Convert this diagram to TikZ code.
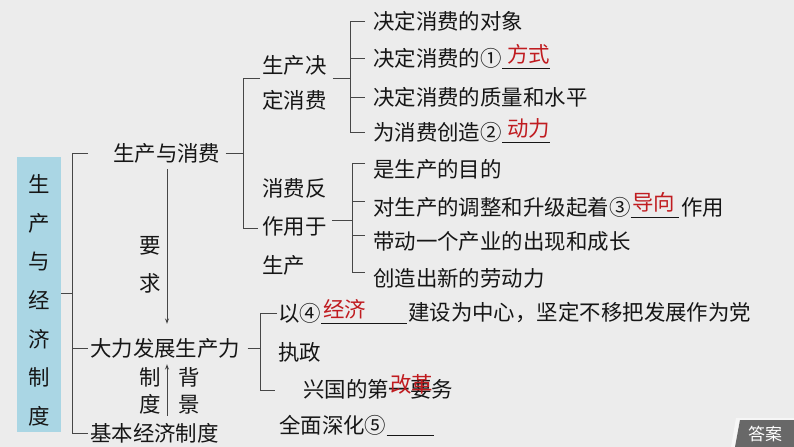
\documentclass[tikz,border=0pt]{standalone}
\usepackage{fontspec}
\setmainfont{Noto Sans CJK SC}
\usetikzlibrary{arrows.meta}
\definecolor{paper}{RGB}{236,236,236}
\definecolor{boxblue}{RGB}{170,214,228}
\definecolor{ink}{RGB}{22,22,22}
\definecolor{ansred}{RGB}{192,28,32}
\definecolor{linegray}{RGB}{70,70,70}
\definecolor{btngray}{RGB}{104,104,104}
\definecolor{btnshade}{RGB}{246,246,246}
\tikzset{
  txt/.style={anchor=west, inner sep=0pt, text=ink, font=\fontsize{18.3}{18.3}\selectfont},
  anstxt/.style={txt, text=ansred},
  brk/.style={draw=linegray, line width=0.8pt},
  uline/.style={draw=ink, line width=0.9pt},
  upar/.style={brk, -{Stealth[length=1.6mm, width=1.2mm]}},
}
\begin{document}
\begin{tikzpicture}[x=0.3mm, y=-0.3mm]
    \fill[paper] (0,0) rectangle (794,447);
    \useasboundingbox (0,0) rectangle (794,447);

    %title box
    \fill[boxblue] (17,157) rectangle (61,432);
    \node[txt, anchor=center, align=center, font=\fontsize{18.3}{33}\selectfont] (title) at (39,300.5) {生\\产\\与\\经\\济\\制\\度};
    \coordinate (titleR) at (61,293);

    %first level
    \node[txt] (pc) at (113,153) {生产与消费};
    \node[txt] (dl) at (90,348) {大力发展生产力};
    \node[txt] (jb) at (90,433) {基本经济制度};
    \coordinate (sp1top) at (72,153);
    \coordinate (sp1mid) at (72,293);
    \coordinate (sp1dl) at (72,348);
    \coordinate (sp1bot) at (72,433);
    \draw[brk] (titleR) -- (sp1mid);
    \draw[brk] ([xshift=-7.5mm]pc.west) -- (sp1top) -- (sp1bot) -- ([xshift=-0.6mm]jb.west);
    \draw[brk] (sp1dl) -- ([xshift=-0.6mm]dl.west);

    %yaoqiu / zhidu beijing
    \coordinate (arrx) at (167,0);
    \draw[upar, shorten <=1.8mm, shorten >=4.2mm] (pc.south -| arrx) -- (dl.north -| arrx);
    \draw[upar, shorten <=2.1mm, shorten >=1.8mm] (jb.north -| arrx) -- (dl.south -| arrx);
    \node[txt, anchor=center, align=center, font=\fontsize{18.3}{32.3}\selectfont] (yq) at (150,265) {要\\求};
    \node[txt, anchor=center, align=center, font=\fontsize{18.3}{23}\selectfont] (zd) at (150,390.5) {制\\度};
    \node[txt, anchor=center, align=center, font=\fontsize{18.3}{23}\selectfont] (bj) at (189,390.5) {背\\景};

    %shengchan yu xiaofei
    \coordinate (sp2top) at (243,78);
    \coordinate (sp2bot) at (243,228);
    \node[txt, align=left, font=\fontsize{18.3}{29.9}\selectfont] (jdxf) at (262,82.5) {生产决\\定消费};
    \node[txt, align=left, font=\fontsize{18.3}{32.8}\selectfont] (fzy) at (262,226.5) {消费反\\作用于\\生产};
    \draw[brk, shorten <=1.5mm] (pc.east) -- (pc.east -| sp2top);
    \draw[brk, shorten <=0.6mm, shorten >=1.2mm] (sp2top -| jdxf.west) -- (sp2top) -- (sp2bot) -- (sp2bot -| fzy.west);

    %shengchan jueding xiaofei (0-132)
    \node[txt] (a1) at (373,21) {决定消费的对象};
    \node[txt] (a2) at (373,58) {决定消费的①};
    \node[txt] (a3) at (373,97) {决定消费的质量和水平};
    \node[txt] (a4) at (373,132) {为消费创造②};
    \coordinate (sp3) at (350,0);
    \coordinate (sp3in) at (350,78);
    \draw[brk, shorten <=1.8mm] (jdxf.east |- sp3in) -- (sp3in);
    \draw[brk, shorten <=2.4mm, shorten >=2.4mm] (a1.west) -- (a1.west -| sp3) -- (a4.west -| sp3) -- (a4.west);
    \foreach \n in {a2,a3}
        \draw[brk, shorten >=2.4mm] (\n.west -| sp3) -- (\n.west);
    \draw[uline] (a2.south east) -- ++(48,0);
    \node[anstxt] (ans1) at (507,54) {方式};
    \draw[uline] (a4.south east) -- ++(48,0);
    \node[anstxt] (ans2) at (507,128) {动力};

    %xiaofei fanzuoyong yu shengchan (162-272)
    \node[txt] (b1) at (373,169) {是生产的目的};
    \node[txt] (b2) at (373,207) {对生产的调整和升级起着③};
    \node[txt] (b3) at (373,241) {带动一个产业的出现和成长};
    \node[txt] (b4) at (373,278) {创造出新的劳动力};
    \foreach \n in {b1,b2,b3,b4}
        \coordinate (\n-t) at ([yshift=1.8mm]\n.west);
    \coordinate (sp4) at (352,0);
    \coordinate (sp4in) at (352,220);
    \draw[brk, shorten <=1.5mm] (fzy.east |- sp4in) -- (sp4in);
    \draw[brk, shorten <=2.4mm, shorten >=2.4mm] (b1-t) -- (b1-t -| sp4) -- (b4-t -| sp4) -- (b4-t);
    \foreach \n in {b2,b3}
        \draw[brk, shorten >=2.4mm] (\n-t -| sp4) -- (\n-t);
    \draw[uline] (b2.south east) -- ++(48,0);
    \node[anstxt] (ans3) at (632,202) {导向};
    \node[txt] (b2e) at (681,207) {作用};

    %dali fazhan shengchanli (313-390)
    \node[txt] (c1) at (278,313) {以④};
    \draw[uline] (c1.south east) -- ++(86,0);
    \node[anstxt] (ans4) at (323,309) {经济};
    \node[txt] (c1e) at (408,313) {建设为中心，坚定不移把发展作为党};
    \node[txt] (c2) at (278,352) {执政};
    \node[txt] (c3) at (303,389) {兴国的第一要务};
    \node[anstxt] (ans5) at (390,384) {改革};
    \coordinate (sp5) at (260,0);
    \coordinate (sp5in) at (260,348);
    \coordinate (sp5bot) at (260,390);
    \draw[brk, shorten <=2.1mm] (dl.east) -- (sp5in);
    \draw[brk, shorten <=0.3mm, shorten >=0.9mm] (c1.west) -- (c1.west -| sp5) -- (sp5bot) -- (sp5bot -| c2.west);

    %quanmian shenhua
    \node[txt] (qm) at (279,425) {全面深化⑤};
    \draw[uline] (qm.south east) -- ++(47,0);

    %answer button
    \fill[btnshade] (736,418) -- (794,418) -- (794,447) -- (731,447) -- cycle;
    \fill[btngray] (740,420) -- (794,420) -- (794,447) -- (735,447) -- cycle;
    \node[inner sep=0pt, text=white, font=\fontsize{14.5}{14.5}\selectfont] (btn) at (765,434) {答案};
\end{tikzpicture}
\end{document}
